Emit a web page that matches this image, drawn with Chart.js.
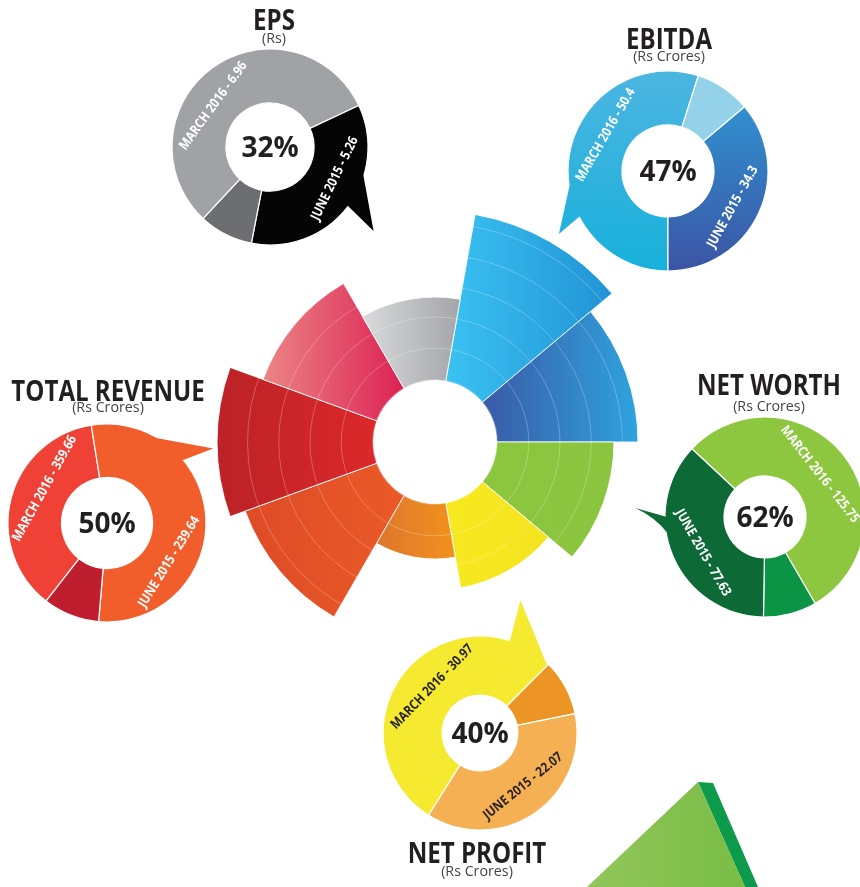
<!DOCTYPE html>
<html>
<head>
<meta charset="utf-8">
<script src="https://cdn.jsdelivr.net/npm/chart.js@4.4.0/dist/chart.umd.min.js"></script>
<style>
html, body { margin: 0; padding: 0; background: #fff; }
body { width: 860px; height: 887px; position: relative; overflow: hidden; font-family: 'Open Sans', sans-serif; color: #231f20; }
.title { position: absolute; font-weight: 700; font-size: 28px; line-height: 28px; white-space: nowrap; transform: translateX(-50%) scaleX(0.86); }
.unit { position: absolute; font-size: 15px; line-height: 15px; color: #444; white-space: nowrap; transform: translateX(-50%) scaleX(0.95); }
#peak { position: absolute; left: 580px; top: 780px; width: 200px; height: 107px; }
#peak div { position: absolute; left: 0; top: 0; width: 200px; height: 107px; }
#peak .side { background: #0e9a4b; clip-path: polygon(118px 2px, 133px 3px, 178px 107px, 165px 107px); }
#peak .face { background: linear-gradient(90deg, #93c65a, #73bb42); clip-path: polygon(118px 2px, 7px 107px, 165px 107px); }
</style>
</head>
<body>
<div id="peak"><div class="side"></div><div class="face"></div></div>
<script>
// five metrics, each shown as a ring
const metricTitles = ['EPS', 'EBITDA', 'TOTAL REVENUE', 'NET WORTH', 'NET PROFIT'];
const metricUnits = ['(Rs)', '(Rs Crores)', '(Rs Crores)', '(Rs Crores)', '(Rs Crores)'];
const march2016 = [6.96, 50.4, 359.66, 125.75, 30.97];
const june2015 = [5.26, 34.3, 239.64, 77.63, 22.07];
const growthPct = [32, 47, 50, 62, 40];

// share of each ring (percent of the circle) as drawn in the picture
const marchArc = [56.1, 54.9, 36.9, 54.7, 53.6];
const juneArc = [35.0, 36.1, 53.9, 36.7, 37.1];
const accentArc = [8.9, 9.0, 9.2, 8.6, 9.3];

// centre wheel, clockwise starting at the upper blue sector
const wheelLabels = ['EBITDA', 'EBITDA', 'NET WORTH', 'NET PROFIT', 'NET PROFIT',
                     'TOTAL REVENUE', 'TOTAL REVENUE', 'TOTAL REVENUE', 'EPS'];
const wheelValues = [92.4, 81.2, 71.6, 59.2, 46.8, 80.8, 87.2, 73.2, 58];

const wheelColors = [
    ['#3ac2f2', '#2193d5'],
    ['#3a5aa7', '#2ea4de'],
    ['#8cc63f', '#8bc43e'],
    ['#f7e91f', '#f4e420'],
    ['#dd762d', '#f2921c'],
    ['#de4b27', '#ea5a27'],
    ['#bb2227', '#dc282a'],
    ['#ec8585', '#dc2254'],
    ['#d9dadc', '#a3a5a8'],
];

const HOLE = 62;
const FONT = "'Open Sans', sans-serif";

// ring layout and look
const rings = [
    { cx: 270, cy: 147, r: 98, cut: '45%', rot: 223, order: ['march', 'june', 'accent'],
      colors: { march: '#a0a2a5', june: '#050505', accent: '#6d6e71' }, ink: '#fff',
      text: { march: 216, june: 26 }, tail: { seg: 'june', b1: 15, b2: 37, tip: 39, far: 1.36 },
      tx: 274, ty: 30, uy: 43 },
    { cx: 668, cy: 171, r: 100, cut: '46%', rot: 180, order: ['march', 'accent', 'june'],
      colors: { march: ['#4cb5e1', '#17b1db'], june: ['#2f9dd8', '#3b54a4'], accent: '#93d2e9' }, ink: '#fff',
      text: { march: 210, june: 29 }, tail: { seg: 'march', b1: 211, b2: 153, tip: 150, far: 1.26 },
      tx: 669, ty: 49, uy: 61 },
    { cx: 107, cy: 523, r: 99, cut: '46%', rot: 218, order: ['march', 'june', 'accent'],
      colors: { march: '#ef4136', june: '#f15d2b', accent: '#be1e2d' }, ink: '#fff',
      text: { march: 209, june: 32 }, tail: { seg: 'june', b1: -97, b2: -40, tip: -35, far: 1.31 },
      tx: 108, ty: 401, uy: 412 },
    { cx: 765, cy: 517, r: 100, cut: '41%', rot: 313, order: ['march', 'accent', 'june'],
      colors: { march: '#8dc63f', june: '#0d6a37', accent: '#0b9444' }, ink: '#fff',
      text: { march: -38, june: 150 }, tail: { seg: 'june', b1: 180, b2: 146, tip: 184, far: 1.3, ctrl: [174, 0.9] },
      tx: 769, ty: 395, uy: 411 },
    { cx: 480, cy: 733, r: 97, cut: '39%', rot: 212, order: ['march', 'accent', 'june'],
      colors: { march: '#f6ea30', june: '#f4b052', accent: '#ec9524' }, ink: '#231f20',
      text: { march: 224, june: 51 }, tail: { seg: 'march', b1: -72, b2: -45, tip: -73, far: 1.43 },
      tx: 477, ty: 863, uy: 876 },
];

const rad = d => d * Math.PI / 180;

function addCanvas(left, top, w, h) {
    const c = document.createElement('canvas');
    c.width = w;
    c.height = h;
    c.style.cssText = `position:absolute;left:${left}px;top:${top}px;width:${w}px;height:${h}px`;
    document.body.appendChild(c);
    return c;
}

// horizontal gradient spanning one wheel sector
function wheelFill(ctx) {
    const chart = ctx.chart;
    const i = ctx.dataIndex;
    const pair = wheelColors[i];
    const scale = chart.scales.r;
    if (!chart.chartArea || !scale || scale.xCenter === undefined) return pair[0];
    const step = 2 * Math.PI / wheelValues.length;
    const a0 = scale.getIndexAngle(0) - Math.PI / 2 + i * step;
    const a1 = a0 + step;
    const R = scale.getDistanceFromCenterForValue(wheelValues[i]);
    const xs = [];
    [a0, a1].forEach(a => [HOLE, R].forEach(rr => xs.push(scale.xCenter + rr * Math.cos(a))));
    for (let k = -2; k <= 4; k++) {
        const a = k * Math.PI;
        if (a > a0 && a < a1) xs.push(scale.xCenter + R * Math.cos(a));
    }
    const g = chart.ctx.createLinearGradient(Math.min(...xs), 0, Math.max(...xs), 0);
    g.addColorStop(0, pair[0]);
    g.addColorStop(1, pair[1]);
    return g;
}

const holePlugin = {
    id: 'hole',
    afterDatasetsDraw(chart) {
        const s = chart.scales.r;
        const c = chart.ctx;
        c.save();
        c.fillStyle = '#fff';
        c.beginPath();
        c.arc(s.xCenter, s.yCenter, HOLE, 0, 2 * Math.PI);
        c.fill();
        c.restore();
    }
};

const wheelCanvas = addCanvas(185, 192, 500, 500);
new Chart(wheelCanvas, {
    type: 'polarArea',
    data: {
        labels: wheelLabels,
        datasets: [{
            data: wheelValues,
            backgroundColor: wheelFill,
            borderColor: 'rgba(255,255,255,0.85)',
            borderWidth: 1
        }]
    },
    options: {
        responsive: false,
        animation: false,
        events: [],
        layout: { padding: 0 },
        plugins: { legend: { display: false }, tooltip: { enabled: false } },
        scales: {
            r: {
                min: 0,
                max: 100,
                startAngle: 10,
                z: 1,
                ticks: { display: false, stepSize: 12.5 },
                grid: { color: 'rgba(255,255,255,0.25)', lineWidth: 1, z: 1 },
                angleLines: { display: false },
                pointLabels: { display: false }
            }
        }
    },
    plugins: [holePlugin]
});

function ringColor(spec, key, chart) {
    const c = spec.colors[key];
    if (!Array.isArray(c)) return c;
    const a = chart.chartArea;
    if (!a) return c[0];
    const cy = (a.top + a.bottom) / 2;
    const g = chart.ctx.createLinearGradient(0, cy - spec.r, 0, cy + spec.r);
    g.addColorStop(0, c[0]);
    g.addColorStop(1, c[1]);
    return g;
}

function uprightRot(aDeg) {
    let r = aDeg + 90;
    r = (((r + 180) % 360) + 360) % 360 - 180;
    if (r > 90) r -= 180;
    else if (r <= -90) r += 180;
    return r;
}

function ringDecor(k) {
    const spec = rings[k];
    return {
        id: 'ringDecor' + k,
        afterDatasetsDraw(chart) {
            const arcs = chart.getDatasetMeta(0).data;
            const cx = arcs[0].x, cy = arcs[0].y;
            const R = arcs[0].outerRadius, r0 = arcs[0].innerRadius;
            const c = chart.ctx;
            const at = (deg, d) => [cx + d * Math.cos(rad(deg)), cy + d * Math.sin(rad(deg))];

            // speech bubble tail
            const t = spec.tail;
            c.save();
            c.fillStyle = arcs[spec.order.indexOf(t.seg)].options.backgroundColor;
            c.beginPath();
            c.moveTo(...at(t.b1, R - 2));
            c.lineTo(...at(t.tip, R * t.far));
            if (t.ctrl) c.quadraticCurveTo(...at(t.ctrl[0], R * t.ctrl[1]), ...at(t.b2, R - 2));
            else c.lineTo(...at(t.b2, R - 2));
            c.arc(cx, cy, R - 2, rad(t.b2), rad(t.b1), t.b2 > t.b1);
            c.closePath();
            c.fill();
            c.restore();

            // period labels along the ring (narrowed to fit like the original face)
            const size = 13.5;
            const texts = {
                march: `MARCH 2016 - ${march2016[k]}`,
                june: `JUNE 2015 - ${june2015[k]}`
            };
            c.save();
            c.fillStyle = spec.ink;
            c.font = `bold ${size}px ${FONT}`;
            c.textAlign = 'center';
            c.textBaseline = 'alphabetic';
            Object.keys(texts).forEach(key => {
                const a = spec.text[key];
                const [x, y] = at(a, (R + r0) / 2);
                c.save();
                c.translate(x, y);
                c.rotate(rad(uprightRot(a)));
                c.scale(0.86, 1);
                c.fillText(texts[key], 0, size * 0.36);
                c.restore();
            });
            c.restore();

            // growth in the middle
            c.save();
            c.fillStyle = '#231f20';
            c.font = `bold 28px ${FONT}`;
            c.textAlign = 'center';
            c.textBaseline = 'alphabetic';
            c.fillText(`${growthPct[k]}%`, cx, cy + 10);
            c.restore();
        }
    };
}

rings.forEach((spec, k) => {
    const half = 150;
    const canvas = addCanvas(spec.cx - half, spec.cy - half, half * 2, half * 2);
    const shares = { march: marchArc[k], june: juneArc[k], accent: accentArc[k] };
    new Chart(canvas, {
        type: 'doughnut',
        data: {
            labels: spec.order,
            datasets: [{
                data: spec.order.map(key => shares[key]),
                backgroundColor: ctx => ringColor(spec, spec.order[ctx.dataIndex], ctx.chart),
                borderColor: '#fff',
                borderWidth: 1.2
            }]
        },
        options: {
            responsive: false,
            animation: false,
            events: [],
            radius: spec.r,
            cutout: spec.cut,
            rotation: spec.rot,
            layout: { padding: 0 },
            plugins: { legend: { display: false }, tooltip: { enabled: false } }
        },
        plugins: [ringDecor(k)]
    });

    const title = document.createElement('div');
    title.className = 'title';
    title.textContent = metricTitles[k];
    title.style.left = spec.tx + 'px';
    title.style.top = (spec.ty - 25) + 'px';
    document.body.appendChild(title);

    const unit = document.createElement('div');
    unit.className = 'unit';
    unit.textContent = metricUnits[k];
    unit.style.left = spec.tx + 'px';
    unit.style.top = (spec.uy - 13.3) + 'px';
    document.body.appendChild(unit);
});
</script>
</body>
</html>
